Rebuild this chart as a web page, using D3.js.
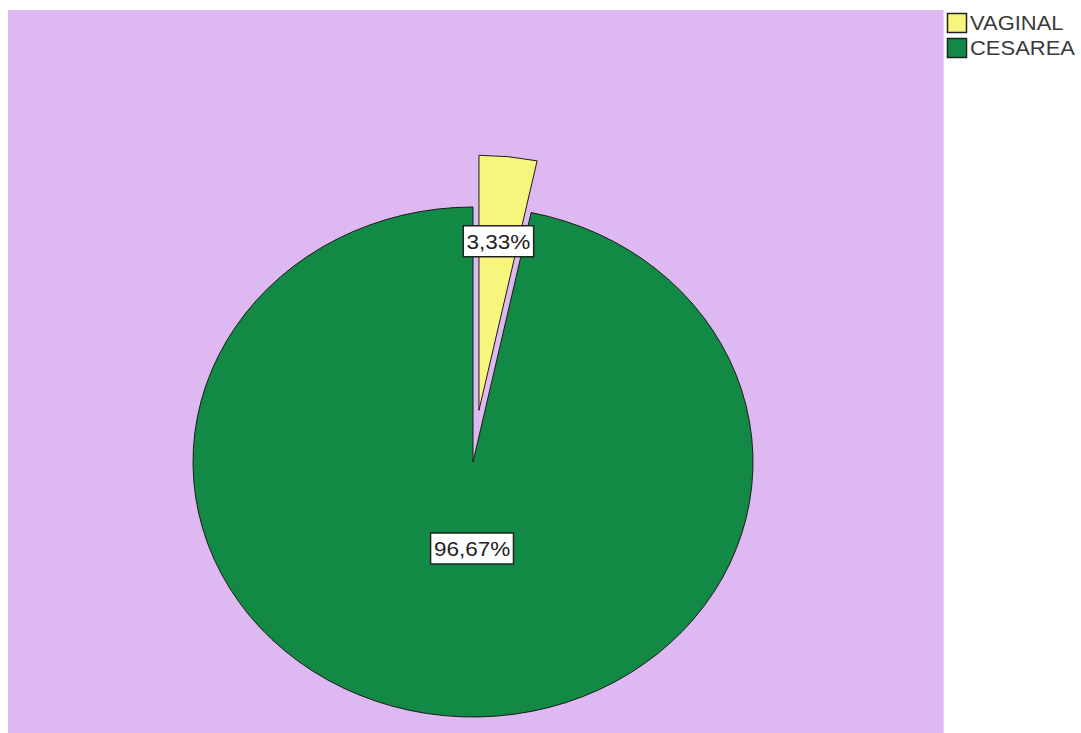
<!DOCTYPE html>
<html><head><meta charset="utf-8">
<script src="https://cdn.jsdelivr.net/npm/d3@7"></script>
<style>body{margin:0;background:#fff;}svg{display:block;font-family:"Liberation Sans",Arial,sans-serif;}</style>
</head><body>
<svg id="chart" width="1081" height="733"></svg>
<script>
const categories = ["VAGINAL", "CESAREA"];
const values = [3.33, 96.67];
const valueLabels = ["3,33%", "96,67%"];
const colors = ["#F8F57C", "#128A45"];

const svg = d3.select("#chart");
const sx = 280 / 255; // horizontal stretch of the original picture

svg.append("rect").attr("x", 8).attr("y", 10).attr("width", 935).attr("height", 723).attr("fill", "#DDB8F1");
svg.append("line").attr("x1", 943.5).attr("x2", 943.5).attr("y1", 10).attr("y2", 733).attr("stroke", "#EBD6F6").attr("stroke-width", 1);

const cx = 473, cy = 462, r = 255;
const explode = [52, 0];
const labelR = [170, 87];
const labelDx = [0, 9];

const pie = d3.pie().sort(null).value(d => d)(values);
const arc = d3.arc().innerRadius(0).outerRadius(r);

const g = svg.append("g").attr("transform", `translate(${cx},${cy}) scale(${sx},1)`);
pie.forEach((p, i) => {
  const mid = (p.startAngle + p.endAngle) / 2;
  const ox = explode[i] * Math.sin(mid), oy = -explode[i] * Math.cos(mid);
  g.append("path").attr("d", arc(p))
    .attr("transform", `translate(${ox},${oy})`)
    .attr("fill", colors[i]).attr("stroke", "#1a1a1a").attr("stroke-width", 1)
    .attr("vector-effect", "non-scaling-stroke").attr("stroke-linejoin", "round");
});

pie.forEach((p, i) => {
  const mid = (p.startAngle + p.endAngle) / 2;
  const ox = explode[i] * Math.sin(mid), oy = -explode[i] * Math.cos(mid);
  const lx = cx + (ox + labelR[i] * Math.sin(mid)) * sx + labelDx[i];
  const ly = cy + oy - labelR[i] * Math.cos(mid);
  const lg = svg.append("g").attr("transform", `translate(${lx},${ly}) scale(${sx},1)`);
  const t = lg.append("text").attr("text-anchor", "middle").attr("dy", "0.36em")
    .attr("font-size", 20.5).attr("fill", "#222").text(valueLabels[i]);
  const bb = t.node().getBBox();
  lg.insert("rect", "text").attr("x", bb.x - 3).attr("y", -15.5).attr("width", bb.width + 6).attr("height", 31)
    .attr("fill", "#fff").attr("stroke", "#222").attr("stroke-width", 1.5)
    .attr("vector-effect", "non-scaling-stroke");
});

const leg = svg.append("g");
categories.forEach((c, i) => {
  const y = 13 + i * 25;
  leg.append("rect").attr("x", 947.5).attr("y", y + 0.5).attr("width", 19).attr("height", 19)
    .attr("fill", colors[i]).attr("stroke", "#222").attr("stroke-width", 1.5);
  leg.append("text").attr("transform", `translate(970,${y + 16.5}) scale(${sx},1)`)
    .attr("font-size", 20).attr("fill", "#3a3a3a").text(c);
});
</script>
</body></html>
